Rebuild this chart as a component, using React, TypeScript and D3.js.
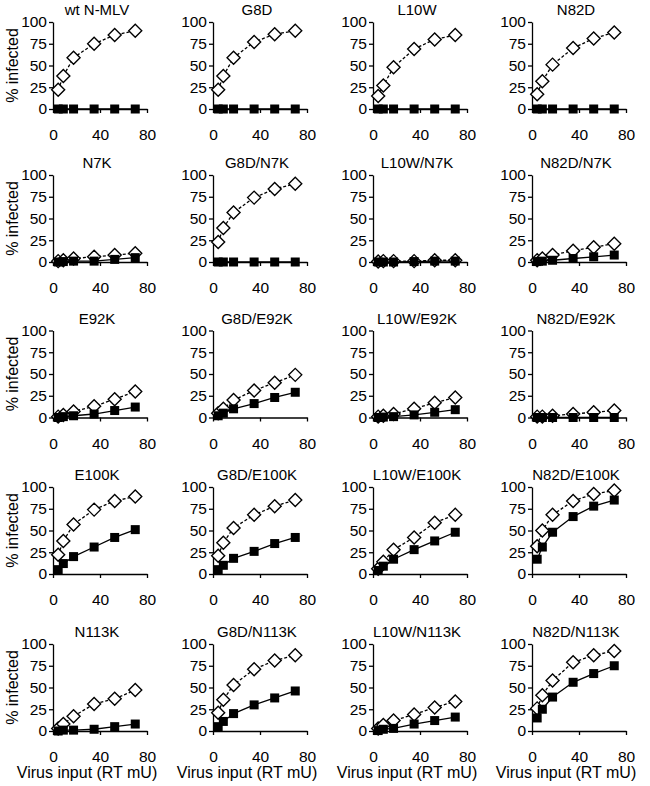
import { useEffect, useRef } from 'react';
import * as d3 from 'd3';

const panelTitles = [
  'wt N-MLV', 'G8D', 'L10W', 'N82D',
  'N7K', 'G8D/N7K', 'L10W/N7K', 'N82D/N7K',
  'E92K', 'G8D/E92K', 'L10W/E92K', 'N82D/E92K',
  'E100K', 'G8D/E100K', 'L10W/E100K', 'N82D/E100K',
  'N113K', 'G8D/N113K', 'L10W/N113K', 'N82D/N113K'
];

const virusInput = [4.4, 8.8, 17.5, 35, 52.5, 70];

// open diamonds, dashed line
const openSeries = [
  [22, 38, 59, 75, 85, 90],
  [22, 38, 59, 77, 86, 90],
  [15, 27, 48, 69, 80, 85],
  [17, 32, 51, 70, 81, 88],
  [1, 2, 4, 6, 8, 10],
  [23, 39, 57, 74, 84, 90],
  [0.5, 1, 1, 1, 2, 2],
  [2, 4, 8, 13, 17, 21],
  [1, 3, 7, 13, 21, 30],
  [5, 10, 20, 31, 40, 49],
  [1, 2, 4, 10, 17, 23],
  [1, 1, 2, 4, 6, 8],
  [22, 38, 57, 74, 84, 89],
  [21, 36, 53, 68, 78, 85],
  [6, 14, 28, 42, 59, 68],
  [32, 50, 68, 84, 92, 96],
  [3, 8, 17, 31, 37, 47],
  [21, 36, 53, 71, 81, 87],
  [3, 7, 12, 19, 27, 34],
  [26, 41, 58, 79, 87, 92]
];

// filled squares, solid line
const filledSeries = [
  [0, 0, 0, 0, 0, 0],
  [0, 0, 0, 0, 0, 0],
  [0, 0, 0, 0, 0, 0],
  [0, 0, 0, 0, 0, 0],
  [0, 0.5, 1, 1, 3, 5],
  [0, 0, 0, 0, 0, 0],
  [0, 0, 0, 0.5, 1, 1],
  [0.5, 1, 2, 4, 6, 8],
  [0, 1, 2, 4, 8, 12],
  [2, 5, 10, 16, 23, 29],
  [0, 0.5, 1, 3, 6, 9],
  [0, 0, 0, 0, 0, 0],
  [5, 12, 20, 31, 42, 51],
  [5, 10, 18, 26, 35, 42],
  [4, 9, 17, 28, 38, 48],
  [17, 31, 48, 66, 78, 85],
  [0, 1, 1, 2, 5, 8],
  [5, 11, 20, 30, 38, 46],
  [0.5, 2, 3, 8, 12, 16],
  [15, 25, 39, 56, 66, 75]
];

const yTicks = [0, 25, 50, 75, 100];
const xTicks = [0, 40, 80];

const FONT = '"Liberation Sans", Arial, sans-serif';

export default function App() {
  const svgRef = useRef<SVGSVGElement>(null);

  useEffect(() => {
    if (!svgRef.current) return;
    const svg = d3.select(svgRef.current);
    svg.selectAll('*').remove();

    // panel origins (top-left of plot area)
    const colX = [53, 213, 373, 532];
    const rowY = [22, 175, 330.5, 487, 644];
    const pw = 94;
    const ph = 87;

    const x = d3.scaleLinear().domain([0, 80]).range([0, pw]);
    const y = d3.scaleLinear().domain([0, 100]).range([ph, 0]);

    const line = d3.line<number>()
      .x((_, j) => x(virusInput[j]))
      .y(d => y(d));

    panelTitles.forEach((title, i) => {
      const col = i % 4;
      const row = Math.floor(i / 4);
      const g = svg.append('g')
        .attr('transform', `translate(${colX[col]},${rowY[row]})`);

      g.append('text')
        .attr('x', pw / 2 - 3)
        .attr('y', -7)
        .attr('text-anchor', 'middle')
        .style('font-family', FONT)
        .style('font-size', '15px')
        .text(title);

      const yAxis = g.append('g')
        .call(d3.axisLeft(y).tickValues(yTicks).tickSize(4).tickSizeOuter(0).tickPadding(2));
      const xAxis = g.append('g')
        .attr('transform', `translate(0,${ph})`)
        .call(d3.axisBottom(x).tickValues(xTicks).tickSize(4).tickSizeOuter(0).tickPadding(16));

      [yAxis, xAxis].forEach(a => {
        a.selectAll('path, line').attr('stroke', '#000').attr('stroke-width', 1.3);
        a.selectAll('text')
          .style('font-family', FONT)
          .style('font-size', '15.5px')
          .attr('fill', '#000');
      });

      g.append('path')
        .datum(openSeries[i])
        .attr('fill', 'none')
        .attr('stroke', '#000')
        .attr('stroke-width', 1.3)
        .attr('stroke-dasharray', '3,2')
        .attr('d', line);

      g.selectAll('.diamond')
        .data(openSeries[i])
        .enter()
        .append('path')
        .attr('class', 'diamond')
        .attr('transform', (d, j) => `translate(${x(virusInput[j])},${y(d)})`)
        .attr('d', 'M0,-6.5L6.5,0L0,6.5L-6.5,0Z')
        .attr('fill', '#fff')
        .attr('stroke', '#000')
        .attr('stroke-width', 1.4);

      g.append('path')
        .datum(filledSeries[i])
        .attr('fill', 'none')
        .attr('stroke', '#000')
        .attr('stroke-width', 1.3)
        .attr('d', line);

      g.selectAll('.square')
        .data(filledSeries[i])
        .enter()
        .append('rect')
        .attr('class', 'square')
        .attr('x', (_, j) => x(virusInput[j]) - 4.5)
        .attr('y', d => y(d) - 4.5)
        .attr('width', 9)
        .attr('height', 9)
        .attr('fill', '#000');

      if (col === 0) {
        g.append('text')
          .attr('transform', `translate(${12 - colX[col]},${ph / 2}) rotate(-90)`)
          .attr('text-anchor', 'middle')
          .attr('dy', '0.35em')
          .style('font-family', FONT)
          .style('font-size', '16px')
          .text('% infected');
      }
      if (row === 4) {
        g.append('text')
          .attr('x', pw / 2 - 13)
          .attr('y', ph + 47)
          .attr('text-anchor', 'middle')
          .style('font-family', FONT)
          .style('font-size', '16px')
          .text('Virus input (RT mU)');
      }
    });
  }, []);

  return (
    <div>
      <style>{'body{margin:0;background:#fff}'}</style>
      <svg ref={svgRef} width={650} height={786} style={{ display: 'block' }} />
    </div>
  );
}
